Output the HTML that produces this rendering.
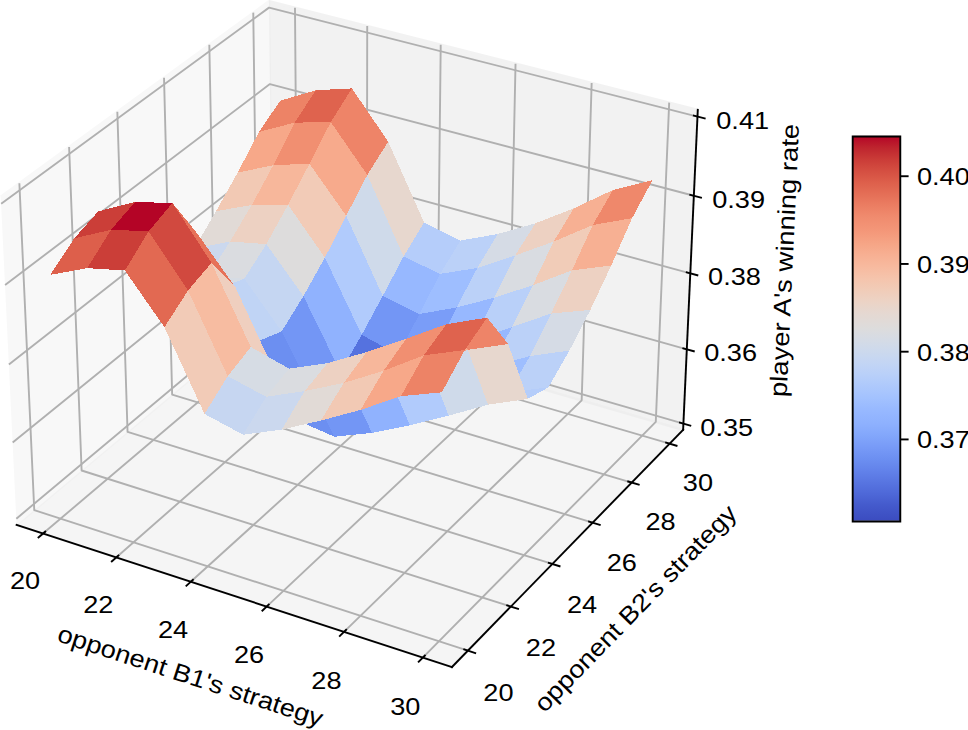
<!DOCTYPE html>
<html><head><meta charset="utf-8"><title>player A's winning rate</title>
<style>html,body{margin:0;padding:0;background:#fff;overflow:hidden}svg{display:block}text{font-family:"Liberation Sans",sans-serif}</style>
</head><body>
<svg width="968" height="730" viewBox="0 0 407.74 307.53" preserveAspectRatio="none">
 <defs>
  <style type="text/css">*{stroke-linejoin: round; stroke-linecap: butt}</style>
 </defs>
 <g id="figure_1">
  <g id="patch_1">
   <path d="M 0 307.53 L 407.74 307.53 L 407.74 0 L 0 0 z
" style="fill: #ffffff"/>
  </g>
  <g id="patch_2">
   <path d="M -17.63 301.62 L 308.75 301.62 L 308.75 -24.76 L -17.63 -24.76 z
" style="fill: #ffffff"/>
  </g>
  <g id="pane3d_1">
   <g id="patch_3">
    <path d="M 7.00 221.14 L 114.79 130.80 L 113.29 0.50 L 0.35 82.92 " style="fill: #f2f2f2; opacity: 0.5; stroke: #f2f2f2; stroke-linejoin: miter"/>
   </g>
  </g>
  <g id="pane3d_2">
   <g id="patch_4">
    <path d="M 114.79 130.80 L 287.74 181.07 L 293.92 46.28 L 113.29 0.50 " style="fill: #e6e6e6; opacity: 0.5; stroke: #e6e6e6; stroke-linejoin: miter"/>
   </g>
  </g>
  <g id="pane3d_3">
   <g id="patch_5">
    <path d="M 7.00 221.14 L 190.35 281.02 L 287.74 181.07 L 114.79 130.80 " style="fill: #ececec; opacity: 0.5; stroke: #ececec; stroke-linejoin: miter"/>
   </g>
  </g>
  <g id="grid3d_1">
   <g id="Line3DCollection_1">
    <path d="M 18.11 224.77 L 125.31 133.85 L 124.25 3.28 " style="fill: none; stroke: #b0b0b0; stroke-width: 0.8"/>
    <path d="M 48.94 234.84 L 154.49 142.33 L 154.68 10.99 " style="fill: none; stroke: #b0b0b0; stroke-width: 0.8"/>
    <path d="M 80.34 245.10 L 184.15 150.96 L 185.64 18.84 " style="fill: none; stroke: #b0b0b0; stroke-width: 0.8"/>
    <path d="M 112.32 255.54 L 214.33 159.73 L 217.15 26.82 " style="fill: none; stroke: #b0b0b0; stroke-width: 0.8"/>
    <path d="M 144.90 266.18 L 245.01 168.65 L 249.22 34.95 " style="fill: none; stroke: #b0b0b0; stroke-width: 0.8"/>
    <path d="M 178.09 277.02 L 276.23 177.72 L 281.87 43.23 " style="fill: none; stroke: #b0b0b0; stroke-width: 0.8"/>
   </g>
  </g>
  <g id="grid3d_2">
   <g id="Line3DCollection_2">
    <path d="M 8.16 77.22 L 14.43 214.92 L 197.08 274.11 " style="fill: none; stroke: #b0b0b0; stroke-width: 0.8"/>
    <path d="M 29.11 61.93 L 34.38 198.20 L 215.17 255.55 " style="fill: none; stroke: #b0b0b0; stroke-width: 0.8"/>
    <path d="M 49.42 47.11 L 53.73 181.97 L 232.68 237.58 " style="fill: none; stroke: #b0b0b0; stroke-width: 0.8"/>
    <path d="M 69.09 32.75 L 72.51 166.23 L 249.64 220.17 " style="fill: none; stroke: #b0b0b0; stroke-width: 0.8"/>
    <path d="M 88.17 18.83 L 90.75 150.95 L 266.09 203.29 " style="fill: none; stroke: #b0b0b0; stroke-width: 0.8"/>
    <path d="M 106.68 5.32 L 108.46 136.10 L 282.05 186.91 " style="fill: none; stroke: #b0b0b0; stroke-width: 0.8"/>
   </g>
  </g>
  <g id="grid3d_3">
   <g id="Line3DCollection_3">
    <path d="M 287.86 178.48 L 114.76 128.29 L 6.88 218.50 " style="fill: none; stroke: #b0b0b0; stroke-width: 0.8"/>
    <path d="M 289.30 147.15 L 114.41 97.95 L 5.33 186.40 " style="fill: none; stroke: #b0b0b0; stroke-width: 0.8"/>
    <path d="M 290.76 115.15 L 114.05 67.01 L 3.75 153.60 " style="fill: none; stroke: #b0b0b0; stroke-width: 0.8"/>
    <path d="M 292.26 82.47 L 113.69 35.43 L 2.14 120.08 " style="fill: none; stroke: #b0b0b0; stroke-width: 0.8"/>
    <path d="M 293.79 49.10 L 113.32 3.21 L 0.49 85.81 " style="fill: none; stroke: #b0b0b0; stroke-width: 0.8"/>
   </g>
  </g>
  <g id="axis3d_1">
   <g id="line2d_1">
    <path d="M 7.00 221.14 L 190.35 281.02 " style="fill: none; stroke: #000000; stroke-width: 0.8; stroke-linecap: square"/>
   </g>
   <g id="xtick_1">
    <g id="line2d_2">
     <path d="M 19.04 223.98 L 16.24 226.36 " style="fill: none; stroke: #000000; stroke-width: 0.8; stroke-linecap: square"/>
    </g>
    <g id="text_1">
     <text style="font-size: 10.3px; font-family: 'Liberation Sans', sans-serif; text-anchor: middle" x="10.58" y="248.07" transform="rotate(-0 10.58 248.07)" textLength="12.72" lengthAdjust="spacingAndGlyphs">20</text>
    </g>
   </g>
   <g id="xtick_2">
    <g id="line2d_3">
     <path d="M 49.86 234.03 L 47.10 236.46 " style="fill: none; stroke: #000000; stroke-width: 0.8; stroke-linecap: square"/>
    </g>
    <g id="text_2">
     <text style="font-size: 10.3px; font-family: 'Liberation Sans', sans-serif; text-anchor: middle" x="41.44" y="258.31" transform="rotate(-0 41.44 258.31)" textLength="12.72" lengthAdjust="spacingAndGlyphs">22</text>
    </g>
   </g>
   <g id="xtick_3">
    <g id="line2d_4">
     <path d="M 81.25 244.27 L 78.53 246.74 " style="fill: none; stroke: #000000; stroke-width: 0.8; stroke-linecap: square"/>
    </g>
    <g id="text_3">
     <text style="font-size: 10.3px; font-family: 'Liberation Sans', sans-serif; text-anchor: middle" x="72.87" y="268.74" transform="rotate(-0 72.87 268.74)" textLength="12.72" lengthAdjust="spacingAndGlyphs">24</text>
    </g>
   </g>
   <g id="xtick_4">
    <g id="line2d_5">
     <path d="M 113.21 254.70 L 110.54 257.22 " style="fill: none; stroke: #000000; stroke-width: 0.8; stroke-linecap: square"/>
    </g>
    <g id="text_4">
     <text style="font-size: 10.3px; font-family: 'Liberation Sans', sans-serif; text-anchor: middle" x="104.88" y="279.37" transform="rotate(-0 104.88 279.37)" textLength="12.72" lengthAdjust="spacingAndGlyphs">26</text>
    </g>
   </g>
   <g id="xtick_5">
    <g id="line2d_6">
     <path d="M 145.77 265.33 L 143.14 267.89 " style="fill: none; stroke: #000000; stroke-width: 0.8; stroke-linecap: square"/>
    </g>
    <g id="text_5">
     <text style="font-size: 10.3px; font-family: 'Liberation Sans', sans-serif; text-anchor: middle" x="137.49" y="290.20" transform="rotate(-0 137.49 290.20)" textLength="12.72" lengthAdjust="spacingAndGlyphs">28</text>
    </g>
   </g>
   <g id="xtick_6">
    <g id="line2d_7">
     <path d="M 178.95 276.15 L 176.37 278.76 " style="fill: none; stroke: #000000; stroke-width: 0.8; stroke-linecap: square"/>
    </g>
    <g id="text_6">
     <text style="font-size: 10.3px; font-family: 'Liberation Sans', sans-serif; text-anchor: middle" x="170.72" y="301.23" transform="rotate(-0 170.72 301.23)" textLength="12.72" lengthAdjust="spacingAndGlyphs">30</text>
    </g>
   </g>
   <g id="text_7">
    <text style="font-size: 10.3px; font-family: 'Liberation Sans', sans-serif; text-anchor: middle" x="79.13" y="288.13" transform="rotate(-341.91 79.13 288.13)" textLength="116.92" lengthAdjust="spacingAndGlyphs">opponent B1's strategy</text>
   </g>
  </g>
  <g id="axis3d_2">
   <g id="line2d_8">
    <path d="M 287.74 181.07 L 190.35 281.02 " style="fill: none; stroke: #000000; stroke-width: 0.8; stroke-linecap: square"/>
   </g>
   <g id="xtick_7">
    <g id="line2d_9">
     <path d="M 195.55 273.61 L 200.17 275.11 " style="fill: none; stroke: #000000; stroke-width: 0.8; stroke-linecap: square"/>
    </g>
    <g id="text_8">
     <text style="font-size: 10.3px; font-family: 'Liberation Sans', sans-serif; text-anchor: middle" x="209.96" y="295.13" transform="rotate(-0 209.96 295.13)" textLength="12.72" lengthAdjust="spacingAndGlyphs">20</text>
    </g>
   </g>
   <g id="xtick_8">
    <g id="line2d_10">
     <path d="M 213.64 255.07 L 218.21 256.52 " style="fill: none; stroke: #000000; stroke-width: 0.8; stroke-linecap: square"/>
    </g>
    <g id="text_9">
     <text style="font-size: 10.3px; font-family: 'Liberation Sans', sans-serif; text-anchor: middle" x="227.85" y="276.35" transform="rotate(-0 227.85 276.35)" textLength="12.72" lengthAdjust="spacingAndGlyphs">22</text>
    </g>
   </g>
   <g id="xtick_9">
    <g id="line2d_11">
     <path d="M 231.17 237.11 L 235.69 238.52 " style="fill: none; stroke: #000000; stroke-width: 0.8; stroke-linecap: square"/>
    </g>
    <g id="text_10">
     <text style="font-size: 10.3px; font-family: 'Liberation Sans', sans-serif; text-anchor: middle" x="245.17" y="258.16" transform="rotate(-0 245.17 258.16)" textLength="12.72" lengthAdjust="spacingAndGlyphs">24</text>
    </g>
   </g>
   <g id="xtick_10">
    <g id="line2d_12">
     <path d="M 248.15 219.71 L 252.63 221.08 " style="fill: none; stroke: #000000; stroke-width: 0.8; stroke-linecap: square"/>
    </g>
    <g id="text_11">
     <text style="font-size: 10.3px; font-family: 'Liberation Sans', sans-serif; text-anchor: middle" x="261.95" y="240.54" transform="rotate(-0 261.95 240.54)" textLength="12.72" lengthAdjust="spacingAndGlyphs">26</text>
    </g>
   </g>
   <g id="xtick_11">
    <g id="line2d_13">
     <path d="M 264.62 202.85 L 269.04 204.17 " style="fill: none; stroke: #000000; stroke-width: 0.8; stroke-linecap: square"/>
    </g>
    <g id="text_12">
     <text style="font-size: 10.3px; font-family: 'Liberation Sans', sans-serif; text-anchor: middle" x="278.22" y="223.45" transform="rotate(-0 278.22 223.45)" textLength="12.72" lengthAdjust="spacingAndGlyphs">28</text>
    </g>
   </g>
   <g id="xtick_12">
    <g id="line2d_14">
     <path d="M 280.59 186.49 L 284.96 187.77 " style="fill: none; stroke: #000000; stroke-width: 0.8; stroke-linecap: square"/>
    </g>
    <g id="text_13">
     <text style="font-size: 10.3px; font-family: 'Liberation Sans', sans-serif; text-anchor: middle" x="293.99" y="206.88" transform="rotate(-0 293.99 206.88)" textLength="12.72" lengthAdjust="spacingAndGlyphs">30</text>
    </g>
   </g>
   <g id="text_14">
    <text style="font-size: 10.3px; font-family: 'Liberation Sans', sans-serif; text-anchor: middle" x="270.17" y="258.74" transform="rotate(-45.74 270.17 258.74)" textLength="116.92" lengthAdjust="spacingAndGlyphs">opponent B2's strategy</text>
   </g>
  </g>
  <g id="axis3d_3">
   <g id="line2d_15">
    <path d="M 287.74 181.07 L 293.92 46.28 " style="fill: none; stroke: #000000; stroke-width: 0.8; stroke-linecap: square"/>
   </g>
   <g id="xtick_13">
    <g id="line2d_16">
     <path d="M 286.41 178.06 L 290.77 179.33 " style="fill: none; stroke: #000000; stroke-width: 0.8; stroke-linecap: square"/>
    </g>
    <g id="text_15">
     <text style="font-size: 10.3px; font-family: 'Liberation Sans', sans-serif; text-anchor: middle" x="306.14" y="183.48" transform="rotate(-0 306.14 183.48)" textLength="22.26" lengthAdjust="spacingAndGlyphs">0.35</text>
    </g>
   </g>
   <g id="xtick_14">
    <g id="line2d_17">
     <path d="M 287.83 146.73 L 292.24 147.97 " style="fill: none; stroke: #000000; stroke-width: 0.8; stroke-linecap: square"/>
    </g>
    <g id="text_16">
     <text style="font-size: 10.3px; font-family: 'Liberation Sans', sans-serif; text-anchor: middle" x="307.76" y="152.19" transform="rotate(-0 307.76 152.19)" textLength="22.26" lengthAdjust="spacingAndGlyphs">0.36</text>
    </g>
   </g>
   <g id="xtick_15">
    <g id="line2d_18">
     <path d="M 289.28 114.75 L 293.74 115.96 " style="fill: none; stroke: #000000; stroke-width: 0.8; stroke-linecap: square"/>
    </g>
    <g id="text_17">
     <text style="font-size: 10.3px; font-family: 'Liberation Sans', sans-serif; text-anchor: middle" x="309.41" y="120.25" transform="rotate(-0 309.41 120.25)" textLength="22.26" lengthAdjust="spacingAndGlyphs">0.38</text>
    </g>
   </g>
   <g id="xtick_16">
    <g id="line2d_19">
     <path d="M 290.76 82.08 L 295.27 83.27 " style="fill: none; stroke: #000000; stroke-width: 0.8; stroke-linecap: square"/>
    </g>
    <g id="text_18">
     <text style="font-size: 10.3px; font-family: 'Liberation Sans', sans-serif; text-anchor: middle" x="311.10" y="87.63" transform="rotate(-0 311.10 87.63)" textLength="22.26" lengthAdjust="spacingAndGlyphs">0.39</text>
    </g>
   </g>
   <g id="xtick_17">
    <g id="line2d_20">
     <path d="M 292.27 48.71 L 296.83 49.87 " style="fill: none; stroke: #000000; stroke-width: 0.8; stroke-linecap: square"/>
    </g>
    <g id="text_19">
     <text style="font-size: 10.3px; font-family: 'Liberation Sans', sans-serif; text-anchor: middle" x="312.83" y="54.31" transform="rotate(-0 312.83 54.31)" textLength="22.26" lengthAdjust="spacingAndGlyphs">0.41</text>
    </g>
   </g>
   <g id="text_20">
    <text style="font-size: 10.3px; font-family: 'Liberation Sans', sans-serif; text-anchor: middle" x="333.94" y="109.86" transform="rotate(-87.37 333.94 109.86)" textLength="115.18" lengthAdjust="spacingAndGlyphs">player A's winning rate</text>
   </g>
  </g>
  <g id="axes_1">
   <g id="Poly3DCollection_1" shape-rendering="crispEdges">
    <path d="M 109.08 55.58 L 124.10 51.67 L 133.02 38.02 L 118.03 42.42 z
" clip-path="url(#p53d6a3b146)" style="fill: #ed8366"/>
    <path d="M 169.98 108.07 L 185.38 115.36 L 193.99 101.34 L 178.65 93.71 z
" clip-path="url(#p53d6a3b146)" style="fill: #b5cdfa"/>
    <path d="M 100.10 72.73 L 115.12 69.58 L 124.10 51.67 L 109.08 55.58 z
" clip-path="url(#p53d6a3b146)" style="fill: #f7a889"/>
    <path d="M 154.72 73.71 L 169.98 108.07 L 178.65 93.71 L 163.52 59.66 z
" clip-path="url(#p53d6a3b146)" style="fill: #e7d7ce"/>
    <path d="M 124.10 51.67 L 139.34 51.41 L 148.23 37.24 L 133.02 38.02 z
" clip-path="url(#p53d6a3b146)" style="fill: #df634e"/>
    <path d="M 139.34 51.41 L 154.72 73.71 L 163.52 59.66 L 148.23 37.24 z
" clip-path="url(#p53d6a3b146)" style="fill: #ee8468"/>
    <path d="M 161.20 124.71 L 176.64 132.30 L 185.38 115.36 L 169.98 108.07 z
" clip-path="url(#p53d6a3b146)" style="fill: #97b8ff"/>
    <path d="M 185.38 115.36 L 201.05 112.91 L 209.64 98.59 L 193.99 101.34 z
" clip-path="url(#p53d6a3b146)" style="fill: #bbd1f8"/>
    <path d="M 91.02 88.97 L 106.06 86.34 L 115.12 69.58 L 100.10 72.73 z
" clip-path="url(#p53d6a3b146)" style="fill: #f2c9b4"/>
    <path d="M 145.83 90.92 L 161.20 124.71 L 169.98 108.07 L 154.72 73.71 z
" clip-path="url(#p53d6a3b146)" style="fill: #cfdaea"/>
    <path d="M 115.12 69.58 L 130.37 68.98 L 139.34 51.41 L 124.10 51.67 z
" clip-path="url(#p53d6a3b146)" style="fill: #f18f71"/>
    <path d="M 130.37 68.98 L 145.83 90.92 L 154.72 73.71 L 139.34 51.41 z
" clip-path="url(#p53d6a3b146)" style="fill: #f7aa8c"/>
    <path d="M 152.35 141.07 L 167.83 149.48 L 176.64 132.30 L 161.20 124.71 z
" clip-path="url(#p53d6a3b146)" style="fill: #7396f5"/>
    <path d="M 81.84 104.71 L 96.88 101.74 L 106.06 86.34 L 91.02 88.97 z
" clip-path="url(#p53d6a3b146)" style="fill: #e1dad6"/>
    <path d="M 176.64 132.30 L 192.33 129.52 L 201.05 112.91 L 185.38 115.36 z
" clip-path="url(#p53d6a3b146)" style="fill: #9ebeff"/>
    <path d="M 136.86 108.50 L 152.35 141.07 L 161.20 124.71 L 145.83 90.92 z
" clip-path="url(#p53d6a3b146)" style="fill: #b1cbfc"/>
    <path d="M 106.06 86.34 L 121.32 86.27 L 130.37 68.98 L 115.12 69.58 z
" clip-path="url(#p53d6a3b146)" style="fill: #f7b79b"/>
    <path d="M 201.05 112.91 L 216.98 107.61 L 225.53 94.08 L 209.64 98.59 z
" clip-path="url(#p53d6a3b146)" style="fill: #d5dbe5"/>
    <path d="M 121.32 86.27 L 136.86 108.50 L 145.83 90.92 L 130.37 68.98 z
" clip-path="url(#p53d6a3b146)" style="fill: #f2cbb7"/>
    <path d="M 143.41 156.75 L 158.94 165.36 L 167.83 149.48 L 152.35 141.07 z
" clip-path="url(#p53d6a3b146)" style="fill: #5572df"/>
    <path d="M 167.83 149.48 L 183.52 147.31 L 192.33 129.52 L 176.64 132.30 z
" clip-path="url(#p53d6a3b146)" style="fill: #7a9df8"/>
    <path d="M 72.53 119.11 L 87.60 116.36 L 96.88 101.74 L 81.84 104.71 z
" clip-path="url(#p53d6a3b146)" style="fill: #cbd8ee"/>
    <path d="M 127.81 124.73 L 143.41 156.75 L 152.35 141.07 L 136.86 108.50 z
" clip-path="url(#p53d6a3b146)" style="fill: #90b2fe"/>
    <path d="M 96.88 101.74 L 112.19 102.85 L 121.32 86.27 L 106.06 86.34 z
" clip-path="url(#p53d6a3b146)" style="fill: #edd1c2"/>
    <path d="M 192.33 129.52 L 208.26 125.40 L 216.98 107.61 L 201.05 112.91 z
" clip-path="url(#p53d6a3b146)" style="fill: #bbd1f8"/>
    <path d="M 112.19 102.85 L 127.81 124.73 L 136.86 108.50 L 121.32 86.27 z
" clip-path="url(#p53d6a3b146)" style="fill: #dddcdc"/>
    <path d="M 158.94 165.36 L 174.65 163.50 L 183.52 147.31 L 167.83 149.48 z
" clip-path="url(#p53d6a3b146)" style="fill: #5a78e4"/>
    <path d="M 216.98 107.61 L 233.18 101.80 L 241.71 87.76 L 225.53 94.08 z
" clip-path="url(#p53d6a3b146)" style="fill: #edd1c2"/>
    <path d="M 134.38 171.10 L 149.96 179.80 L 158.94 165.36 L 143.41 156.75 z
" clip-path="url(#p53d6a3b146)" style="fill: #3d50c3"/>
    <path d="M 118.65 139.61 L 134.38 171.10 L 143.41 156.75 L 127.81 124.73 z
" clip-path="url(#p53d6a3b146)" style="fill: #7396f5"/>
    <path d="M 87.60 116.36 L 102.93 117.42 L 112.19 102.85 L 96.88 101.74 z
" clip-path="url(#p53d6a3b146)" style="fill: #dadce0"/>
    <path d="M 183.52 147.31 L 199.45 143.43 L 208.26 125.40 L 192.33 129.52 z
" clip-path="url(#p53d6a3b146)" style="fill: #97b8ff"/>
    <path d="M 62.82 123.14 L 77.96 120.37 L 87.60 116.36 L 72.53 119.11 z
" clip-path="url(#p53d6a3b146)" style="fill: #c6d6f1"/>
    <path d="M 102.93 117.42 L 118.65 139.61 L 127.81 124.73 L 112.19 102.85 z
" clip-path="url(#p53d6a3b146)" style="fill: #c5d6f2"/>
    <path d="M 149.96 179.80 L 165.70 178.15 L 174.65 163.50 L 158.94 165.36 z
" clip-path="url(#p53d6a3b146)" style="fill: #4257c9"/>
    <path d="M 208.26 125.40 L 224.44 120.14 L 233.18 101.80 L 216.98 107.61 z
" clip-path="url(#p53d6a3b146)" style="fill: #d9dce1"/>
    <path d="M 174.65 163.50 L 190.60 159.90 L 199.45 143.43 L 183.52 147.31 z
" clip-path="url(#p53d6a3b146)" style="fill: #7597f6"/>
    <path d="M 125.17 177.06 L 140.85 183.99 L 149.96 179.80 L 134.38 171.10 z
" clip-path="url(#p53d6a3b146)" style="fill: #3b4cc0"/>
    <path d="M 109.24 143.56 L 125.17 177.06 L 134.38 171.10 L 118.65 139.61 z
" clip-path="url(#p53d6a3b146)" style="fill: #6c8ff1"/>
    <path d="M 233.18 101.80 L 249.66 94.80 L 258.19 80.03 L 241.71 87.76 z
" clip-path="url(#p53d6a3b146)" style="fill: #f7b093"/>
    <path d="M 77.96 120.37 L 93.36 120.94 L 102.93 117.42 L 87.60 116.36 z
" clip-path="url(#p53d6a3b146)" style="fill: #d6dce4"/>
    <path d="M 199.45 143.43 L 215.65 137.77 L 224.44 120.14 L 208.26 125.40 z
" clip-path="url(#p53d6a3b146)" style="fill: #b9d0f9"/>
    <path d="M 93.36 120.94 L 109.24 143.56 L 118.65 139.61 L 102.93 117.42 z
" clip-path="url(#p53d6a3b146)" style="fill: #c0d4f5"/>
    <path d="M 165.70 178.15 L 181.67 174.87 L 190.60 159.90 L 174.65 163.50 z
" clip-path="url(#p53d6a3b146)" style="fill: #5a78e4"/>
    <path d="M 140.85 183.99 L 156.68 182.36 L 165.70 178.15 L 149.96 179.80 z
" clip-path="url(#p53d6a3b146)" style="fill: #3d50c3"/>
    <path d="M 224.44 120.14 L 240.90 113.92 L 249.66 94.80 L 233.18 101.80 z
" clip-path="url(#p53d6a3b146)" style="fill: #f1ccb8"/>
    <path d="M 190.60 159.90 L 206.80 154.47 L 215.65 137.77 L 199.45 143.43 z
" clip-path="url(#p53d6a3b146)" style="fill: #97b8ff"/>
    <path d="M 249.66 94.80 L 266.25 91.91 L 274.80 75.94 L 258.19 80.03 z
" clip-path="url(#p53d6a3b146)" style="fill: #ef886b"/>
    <path d="M 52.08 100.06 L 67.42 97.41 L 77.96 120.37 L 62.82 123.14 z
" clip-path="url(#p53d6a3b146)" style="fill: #f2cbb7"/>
    <path d="M 215.65 137.77 L 232.11 132.10 L 240.90 113.92 L 224.44 120.14 z
" clip-path="url(#p53d6a3b146)" style="fill: #d9dce1"/>
    <path d="M 156.68 182.36 L 172.72 179.19 L 181.67 174.87 L 165.70 178.15 z
" clip-path="url(#p53d6a3b146)" style="fill: #5572df"/>
    <path d="M 181.67 174.87 L 197.89 170.03 L 206.80 154.47 L 190.60 159.90 z
" clip-path="url(#p53d6a3b146)" style="fill: #7a9df8"/>
    <path d="M 115.50 156.30 L 131.44 165.06 L 140.85 183.99 L 125.17 177.06 z
" clip-path="url(#p53d6a3b146)" style="fill: #6c8ff1"/>
    <path d="M 240.90 113.92 L 257.48 111.81 L 266.25 91.91 L 249.66 94.80 z
" clip-path="url(#p53d6a3b146)" style="fill: #f7b093"/>
    <path d="M 99.23 121.13 L 115.50 156.30 L 125.17 177.06 L 109.24 143.56 z
" clip-path="url(#p53d6a3b146)" style="fill: #a9c6fd"/>
    <path d="M 206.80 154.47 L 223.24 150.00 L 232.11 132.10 L 215.65 137.77 z
" clip-path="url(#p53d6a3b146)" style="fill: #bbd1f8"/>
    <path d="M 67.42 97.41 L 83.05 98.31 L 93.36 120.94 L 77.96 120.37 z
" clip-path="url(#p53d6a3b146)" style="fill: #f7bca1"/>
    <path d="M 83.05 98.31 L 99.23 121.13 L 109.24 143.56 L 93.36 120.94 z
" clip-path="url(#p53d6a3b146)" style="fill: #efcfbf"/>
    <path d="M 232.11 132.10 L 248.69 130.54 L 257.48 111.81 L 240.90 113.92 z
" clip-path="url(#p53d6a3b146)" style="fill: #edd1c2"/>
    <path d="M 131.44 165.06 L 147.46 162.61 L 156.68 182.36 L 140.85 183.99 z
" clip-path="url(#p53d6a3b146)" style="fill: #7396f5"/>
    <path d="M 172.72 179.19 L 189.01 175.09 L 197.89 170.03 L 181.67 174.87 z
" clip-path="url(#p53d6a3b146)" style="fill: #7396f5"/>
    <path d="M 197.89 170.03 L 214.36 165.22 L 223.24 150.00 L 206.80 154.47 z
" clip-path="url(#p53d6a3b146)" style="fill: #9ebeff"/>
    <path d="M 223.24 150.00 L 239.87 147.67 L 248.69 130.54 L 232.11 132.10 z
" clip-path="url(#p53d6a3b146)" style="fill: #d5dbe5"/>
    <path d="M 41.40 89.03 L 56.85 85.12 L 67.42 97.41 L 52.08 100.06 z
" clip-path="url(#p53d6a3b146)" style="fill: #e26952"/>
    <path d="M 147.46 162.61 L 163.73 158.57 L 172.72 179.19 L 156.68 182.36 z
" clip-path="url(#p53d6a3b146)" style="fill: #90b2fe"/>
    <path d="M 189.01 175.09 L 205.56 170.50 L 214.36 165.22 L 197.89 170.03 z
" clip-path="url(#p53d6a3b146)" style="fill: #97b8ff"/>
    <path d="M 214.36 165.22 L 231.01 163.20 L 239.87 147.67 L 223.24 150.00 z
" clip-path="url(#p53d6a3b146)" style="fill: #bbd1f8"/>
    <path d="M 105.65 146.20 L 121.78 155.29 L 131.44 165.06 L 115.50 156.30 z
" clip-path="url(#p53d6a3b146)" style="fill: #c0d4f5"/>
    <path d="M 89.10 110.72 L 105.65 146.20 L 115.50 156.30 L 99.23 121.13 z
" clip-path="url(#p53d6a3b146)" style="fill: #efcfbf"/>
    <path d="M 56.85 85.12 L 72.63 85.50 L 83.05 98.31 L 67.42 97.41 z
" clip-path="url(#p53d6a3b146)" style="fill: #d1493f"/>
    <path d="M 163.73 158.57 L 180.25 152.91 L 189.01 175.09 L 172.72 179.19 z
" clip-path="url(#p53d6a3b146)" style="fill: #b1cbfc"/>
    <path d="M 72.63 85.50 L 89.10 110.72 L 99.23 121.13 L 83.05 98.31 z
" clip-path="url(#p53d6a3b146)" style="fill: #e67259"/>
    <path d="M 121.78 155.29 L 137.97 152.96 L 147.46 162.61 L 131.44 165.06 z
" clip-path="url(#p53d6a3b146)" style="fill: #c5d6f2"/>
    <path d="M 205.56 170.50 L 222.31 168.05 L 231.01 163.20 L 214.36 165.22 z
" clip-path="url(#p53d6a3b146)" style="fill: #b5cdfa"/>
    <path d="M 31.28 100.41 L 46.77 96.79 L 56.85 85.12 L 41.40 89.03 z
" clip-path="url(#p53d6a3b146)" style="fill: #cb3e38"/>
    <path d="M 95.93 158.49 L 112.13 167.15 L 121.78 155.29 L 105.65 146.20 z
" clip-path="url(#p53d6a3b146)" style="fill: #d6dce4"/>
    <path d="M 79.20 122.38 L 95.93 158.49 L 105.65 146.20 L 89.10 110.72 z
" clip-path="url(#p53d6a3b146)" style="fill: #f7bca1"/>
    <path d="M 180.25 152.91 L 197.04 147.37 L 205.56 170.50 L 189.01 175.09 z
" clip-path="url(#p53d6a3b146)" style="fill: #cfdaea"/>
    <path d="M 137.97 152.96 L 154.39 148.34 L 163.73 158.57 L 147.46 162.61 z
" clip-path="url(#p53d6a3b146)" style="fill: #dddcdc"/>
    <path d="M 21.19 115.79 L 36.72 112.95 L 46.77 96.79 L 31.28 100.41 z
" clip-path="url(#p53d6a3b146)" style="fill: #dd5f4b"/>
    <path d="M 46.77 96.79 L 62.61 97.47 L 72.63 85.50 L 56.85 85.12 z
" clip-path="url(#p53d6a3b146)" style="fill: #b40426"/>
    <path d="M 62.61 97.47 L 79.20 122.38 L 89.10 110.72 L 72.63 85.50 z
" clip-path="url(#p53d6a3b146)" style="fill: #d1493f"/>
    <path d="M 112.13 167.15 L 128.36 164.74 L 137.97 152.96 L 121.78 155.29 z
" clip-path="url(#p53d6a3b146)" style="fill: #dadce0"/>
    <path d="M 86.15 174.39 L 102.40 183.13 L 112.13 167.15 L 95.93 158.49 z
" clip-path="url(#p53d6a3b146)" style="fill: #c6d6f1"/>
    <path d="M 69.26 137.84 L 86.15 174.39 L 95.93 158.49 L 79.20 122.38 z
" clip-path="url(#p53d6a3b146)" style="fill: #f2cbb7"/>
    <path d="M 36.72 112.95 L 52.60 113.96 L 62.61 97.47 L 46.77 96.79 z
" clip-path="url(#p53d6a3b146)" style="fill: #cb3e38"/>
    <path d="M 197.04 147.37 L 214.04 144.94 L 222.31 168.05 L 205.56 170.50 z
" clip-path="url(#p53d6a3b146)" style="fill: #e7d7ce"/>
    <path d="M 154.39 148.34 L 171.07 142.73 L 180.25 152.91 L 163.73 158.57 z
" clip-path="url(#p53d6a3b146)" style="fill: #f2cbb7"/>
    <path d="M 52.60 113.96 L 69.26 137.84 L 79.20 122.38 L 62.61 97.47 z
" clip-path="url(#p53d6a3b146)" style="fill: #e26952"/>
    <path d="M 102.40 183.13 L 118.66 180.97 L 128.36 164.74 L 112.13 167.15 z
" clip-path="url(#p53d6a3b146)" style="fill: #cbd8ee"/>
    <path d="M 128.36 164.74 L 144.82 161.31 L 154.39 148.34 L 137.97 152.96 z
" clip-path="url(#p53d6a3b146)" style="fill: #edd1c2"/>
    <path d="M 171.07 142.73 L 188.04 136.57 L 197.04 147.37 L 180.25 152.91 z
" clip-path="url(#p53d6a3b146)" style="fill: #f7aa8c"/>
    <path d="M 118.66 180.97 L 135.14 177.19 L 144.82 161.31 L 128.36 164.74 z
" clip-path="url(#p53d6a3b146)" style="fill: #e1dad6"/>
    <path d="M 144.82 161.31 L 161.54 156.23 L 171.07 142.73 L 154.39 148.34 z
" clip-path="url(#p53d6a3b146)" style="fill: #f7b79b"/>
    <path d="M 188.04 136.57 L 205.22 133.80 L 214.04 144.94 L 197.04 147.37 z
" clip-path="url(#p53d6a3b146)" style="fill: #ee8468"/>
    <path d="M 135.14 177.19 L 151.87 172.67 L 161.54 156.23 L 144.82 161.31 z
" clip-path="url(#p53d6a3b146)" style="fill: #f2c9b4"/>
    <path d="M 161.54 156.23 L 178.54 149.68 L 188.04 136.57 L 171.07 142.73 z
" clip-path="url(#p53d6a3b146)" style="fill: #f18f71"/>
    <path d="M 151.87 172.67 L 168.88 166.91 L 178.54 149.68 L 161.54 156.23 z
" clip-path="url(#p53d6a3b146)" style="fill: #f7a889"/>
    <path d="M 178.54 149.68 L 195.77 147.46 L 205.22 133.80 L 188.04 136.57 z
" clip-path="url(#p53d6a3b146)" style="fill: #df634e"/>
    <path d="M 168.88 166.91 L 186.13 165.26 L 195.77 147.46 L 178.54 149.68 z
" clip-path="url(#p53d6a3b146)" style="fill: #ed8366"/>
   </g>
  </g>
  <g id="axes_2">
   <g id="patch_6">
    <path d="M 359.17 219.68 L 379.22 219.68 L 379.22 57.53 L 359.17 57.53 z
" style="fill: #ffffff"/>
   </g>
   <defs><linearGradient id="cbg" x1="0" y1="0" x2="0" y2="1"><stop offset="0.00" stop-color="#b40426"/><stop offset="0.03" stop-color="#be242e"/><stop offset="0.06" stop-color="#ca3b37"/><stop offset="0.09" stop-color="#d44e41"/><stop offset="0.12" stop-color="#dd5f4b"/><stop offset="0.15" stop-color="#e46e56"/><stop offset="0.18" stop-color="#eb7d62"/><stop offset="0.21" stop-color="#f08b6e"/><stop offset="0.25" stop-color="#f4987a"/><stop offset="0.28" stop-color="#f6a586"/><stop offset="0.31" stop-color="#f7b093"/><stop offset="0.34" stop-color="#f7ba9f"/><stop offset="0.37" stop-color="#f5c4ac"/><stop offset="0.40" stop-color="#f1ccb8"/><stop offset="0.43" stop-color="#ecd3c5"/><stop offset="0.46" stop-color="#e5d8d1"/><stop offset="0.50" stop-color="#dddcdc"/><stop offset="0.53" stop-color="#d5dbe5"/><stop offset="0.56" stop-color="#ccd9ed"/><stop offset="0.59" stop-color="#c3d5f4"/><stop offset="0.62" stop-color="#b9d0f9"/><stop offset="0.65" stop-color="#aec9fc"/><stop offset="0.68" stop-color="#a3c2fe"/><stop offset="0.71" stop-color="#98b9ff"/><stop offset="0.75" stop-color="#8db0fe"/><stop offset="0.78" stop-color="#82a6fb"/><stop offset="0.81" stop-color="#779af7"/><stop offset="0.84" stop-color="#6c8ff1"/><stop offset="0.87" stop-color="#6282ea"/><stop offset="0.90" stop-color="#5875e1"/><stop offset="0.93" stop-color="#4e68d8"/><stop offset="0.96" stop-color="#445acc"/><stop offset="1.00" stop-color="#3b4cc0"/></linearGradient></defs><rect x="359.15" y="57.26" width="20.21" height="162.10" fill="url(#cbg)"/>
   <g id="matplotlib.axis_1"/>
   <g id="matplotlib.axis_2">
    <g id="ytick_1">
     <g id="line2d_21">
      <defs>
       <path id="mfcdca85a19" d="M 0 0 L 3.5 0 " style="stroke: #000000; stroke-width: 0.8"/>
      </defs>
      <g>
       <use xlink:href="#mfcdca85a19" x="379.22" y="185.12" style="stroke: #000000; stroke-width: 0.8"/>
      </g>
     </g>
     <g id="text_21">
      <text style="font-size: 10.3px; font-family: 'Liberation Sans', sans-serif; text-anchor: start" x="386.22" y="188.92" transform="rotate(-0 386.22 188.92)" textLength="22.26" lengthAdjust="spacingAndGlyphs">0.37</text>
     </g>
    </g>
    <g id="ytick_2">
     <g id="line2d_22">
      <g>
       <use xlink:href="#mfcdca85a19" x="379.22" y="148.16" style="stroke: #000000; stroke-width: 0.8"/>
      </g>
     </g>
     <g id="text_22">
      <text style="font-size: 10.3px; font-family: 'Liberation Sans', sans-serif; text-anchor: start" x="386.22" y="151.96" transform="rotate(-0 386.22 151.96)" textLength="22.26" lengthAdjust="spacingAndGlyphs">0.38</text>
     </g>
    </g>
    <g id="ytick_3">
     <g id="line2d_23">
      <g>
       <use xlink:href="#mfcdca85a19" x="379.22" y="111.20" style="stroke: #000000; stroke-width: 0.8"/>
      </g>
     </g>
     <g id="text_23">
      <text style="font-size: 10.3px; font-family: 'Liberation Sans', sans-serif; text-anchor: start" x="386.22" y="115.00" transform="rotate(-0 386.22 115.00)" textLength="22.26" lengthAdjust="spacingAndGlyphs">0.39</text>
     </g>
    </g>
    <g id="ytick_4">
     <g id="line2d_24">
      <g>
       <use xlink:href="#mfcdca85a19" x="379.22" y="74.24" style="stroke: #000000; stroke-width: 0.8"/>
      </g>
     </g>
     <g id="text_24">
      <text style="font-size: 10.3px; font-family: 'Liberation Sans', sans-serif; text-anchor: start" x="386.22" y="78.04" transform="rotate(-0 386.22 78.04)" textLength="22.26" lengthAdjust="spacingAndGlyphs">0.40</text>
     </g>
    </g>
   </g>
   <g id="LineCollection_1"/>
   <g id="patch_7">
    <path d="M 359.17 219.68 L 369.2 219.68 L 379.22 219.68 L 379.22 57.53 L 369.2 57.53 L 359.17 57.53 L 359.17 219.68 z
" style="fill: none; stroke: #000000; stroke-width: 0.8; stroke-linejoin: miter; stroke-linecap: square"/>
   </g>
  </g>
 </g>
 <defs>
  <clipPath id="p53d6a3b146">
   <rect x="-17.63" y="-24.76" width="326.39" height="326.39"/>
  </clipPath>
 </defs>
</svg>

</body></html>
